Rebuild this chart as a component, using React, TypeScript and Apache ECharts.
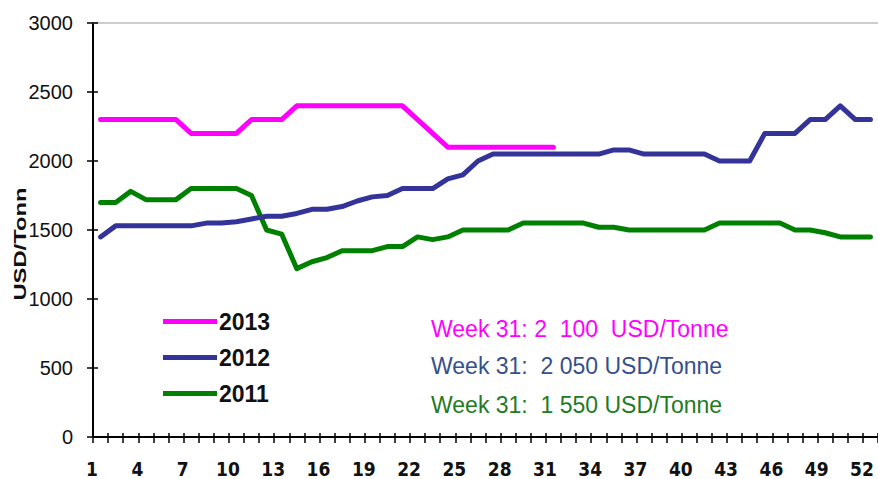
import React, { useEffect, useRef } from "react";
import * as echarts from "echarts";

const weeks = ["1","2","3","4","5","6","7","8","9","10","11","12","13","14","15","16","17","18","19","20","21","22","23","24","25","26","27","28","29","30","31","32","33","34","35","36","37","38","39","40","41","42","43","44","45","46","47","48","49","50","51","52"];

const prices2013 = [2300,2300,2300,2300,2300,2300,2200,2200,2200,2200,2300,2300,2300,2400,2400,2400,2400,2400,2400,2400,2400,2300,2200,2100,2100,2100,2100,2100,2100,2100,2100];

const prices2012 = [1450,1530,1530,1530,1530,1530,1530,1550,1550,1560,1580,1600,1600,1620,1650,1650,1670,1710,1740,1750,1800,1800,1800,1870,1900,2000,2050,2050,2050,2050,2050,2050,2050,2050,2080,2080,2050,2050,2050,2050,2050,2000,2000,2000,2200,2200,2200,2300,2300,2400,2300,2300];

const prices2011 = [1700,1700,1780,1720,1720,1720,1800,1800,1800,1800,1750,1500,1470,1220,1270,1300,1350,1350,1350,1380,1380,1450,1430,1450,1500,1500,1500,1500,1550,1550,1550,1550,1550,1520,1520,1500,1500,1500,1500,1500,1500,1550,1550,1550,1550,1550,1500,1500,1480,1450,1450,1450];

const seriesNames = ["2013", "2012", "2011"];
const seriesColors = ["#FF00FF", "#333399", "#008000"];

const annotations = [
  { text: "Week 31: 2  100  USD/Tonne", color: "#FF00FF" },
  { text: "Week 31:  2 050 USD/Tonne", color: "#35508C" },
  { text: "Week 31:  1 550 USD/Tonne", color: "#237A23" },
];

const yTitle = "USD/Tonn";

const ARIAL = "'Liberation Sans', Arial, sans-serif";
const NARROW = "'Liberation Sans Narrow', 'Arial Narrow', 'DejaVu Sans Condensed', sans-serif";

export default function App() {
  const ref = useRef<HTMLDivElement>(null);
  useEffect(() => {
    if (!ref.current) return;
    const chart = echarts.init(ref.current, null, { renderer: "svg" });
    const grid = { left: 93, top: 23, width: 789, height: 414 };
    const lineSeries = (name: string, data: number[], color: string, z: number) => ({
      name,
      type: "line",
      data,
      xAxisIndex: 0,
      yAxisIndex: 0,
      showSymbol: false,
      symbol: "none",
      z,
      lineStyle: { color, width: 5, cap: "round", join: "round" },
      itemStyle: { color },
    });
    const annY = [329, 366, 405];
    chart.setOption({
      animation: false,
      backgroundColor: "#ffffff",
      grid,
      legend: {
        data: seriesNames,
        orient: "vertical",
        left: 163,
        top: 310,
        padding: 0,
        itemWidth: 54,
        itemHeight: 5,
        itemGap: 13,
        icon: "rect",
        textStyle: {
          fontFamily: ARIAL,
          fontSize: 23,
          fontWeight: "bold",
          color: "#111",
          lineHeight: 22,
          padding: [0, 0, 0, -3],
        },
      },
      xAxis: [
        {
          type: "category",
          data: weeks,
          boundaryGap: true,
          position: "bottom",
          axisLine: { lineStyle: { color: "#000", width: 2 } },
          axisTick: { show: true, interval: 0, length: 6, lineStyle: { color: "#000", width: 1.5 } },
          axisLabel: {
            interval: 2,
            margin: 22,
            fontFamily: NARROW,
            fontWeight: "bold",
            fontSize: 19,
            color: "#111",
            padding: [0, 17, 0, 0],
          },
          splitLine: { show: false },
        },
        {
          type: "category",
          data: weeks,
          boundaryGap: true,
          position: "bottom",
          axisLine: { show: false },
          axisTick: { show: true, inside: true, interval: 0, length: 4, lineStyle: { color: "#000", width: 1.5 } },
          axisLabel: { show: false },
          splitLine: { show: false },
        },
        {
          type: "category",
          data: weeks,
          boundaryGap: true,
          position: "top",
          axisLine: { show: true, lineStyle: { color: "#bdbdbd", width: 1.5 } },
          axisTick: { show: false },
          axisLabel: { show: false },
          splitLine: { show: false },
        },
      ],
      yAxis: [
        {
          type: "value",
          min: 0,
          max: 3000,
          interval: 500,
          position: "left",
          axisLine: { show: true, lineStyle: { color: "#000", width: 2 } },
          axisTick: { show: true, length: 6, lineStyle: { color: "#000", width: 1.5 } },
          axisLabel: {
            margin: 20,
            fontFamily: ARIAL,
            fontSize: 20,
            color: "#111",
            formatter: (v: number) => String(v),
          },
          splitLine: { show: false },
        },
        {
          type: "value",
          min: 0,
          max: 3000,
          interval: 500,
          position: "left",
          axisLine: { show: false },
          axisTick: { show: true, inside: true, length: 5, lineStyle: { color: "#000", width: 1.5 } },
          axisLabel: { show: false },
          splitLine: { show: false },
        },
      ],
      series: [
        lineSeries(seriesNames[2], prices2011, seriesColors[2], 2),
        lineSeries(seriesNames[1], prices2012, seriesColors[1], 3),
        lineSeries(seriesNames[0], prices2013, seriesColors[0], 4),
      ],
      graphic: [
        {
          type: "text",
          x: 20,
          y: 244,
          rotation: Math.PI / 2,
          scaleX: 1.4,
          style: {
            text: yTitle,
            fill: "#111",
            font: `bold 17px ${ARIAL}`,
            align: "center",
            verticalAlign: "middle",
          },
        },
        ...annotations.map((a, i) => ({
          type: "text",
          x: 431,
          y: annY[i],
          style: {
            text: a.text,
            fill: a.color,
            font: `23px ${ARIAL}`,
            align: "left",
            verticalAlign: "middle",
          },
        })),
      ],
    });
    return () => chart.dispose();
  }, []);
  return (
    <div
      ref={ref}
      style={{ position: "absolute", left: 0, top: 0, width: 878, height: 479, background: "#fff" }}
    />
  );
}
